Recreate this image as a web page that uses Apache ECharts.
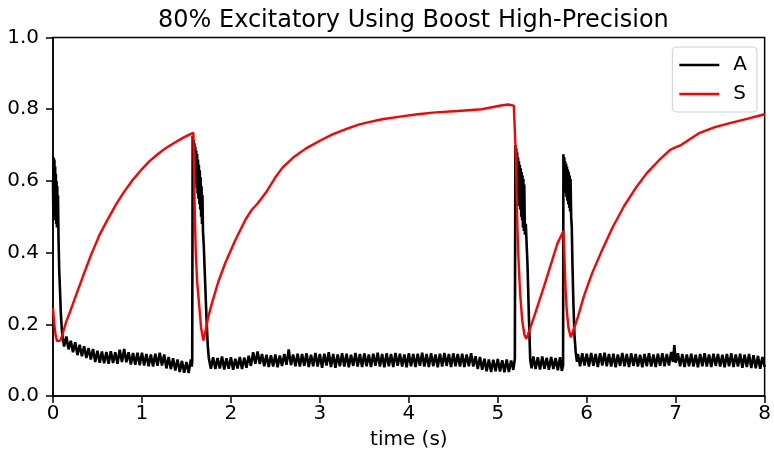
<!DOCTYPE html>
<html>
<head>
<meta charset="utf-8">
<script src="https://cdn.jsdelivr.net/npm/echarts@6/dist/echarts.min.js"></script>
<style>
  html, body { margin: 0; padding: 0; background: #fff; }
  #chart { width: 774px; height: 455px; }
</style>
</head>
<body>
<div id="chart"></div>
<script>
  const titleText = '80% Excitatory Using Boost High-Precision';
  const seriesNames = ['A', 'S'];
  const xTicks = [0, 1, 2, 3, 4, 5, 6, 7, 8];
  const yTicks = [0, 0.2, 0.4, 0.6, 0.8, 1.0];

  // A: activity [time, value]
  const aBurst1 = [
    [0.000, 0.600], [0.004, 0.500], [0.008, 0.665], [0.012, 0.490], [0.016, 0.660],
    [0.020, 0.500], [0.024, 0.640], [0.028, 0.490], [0.032, 0.620], [0.036, 0.480],
    [0.040, 0.600], [0.044, 0.470], [0.048, 0.585], [0.052, 0.470], [0.056, 0.560],
    [0.062, 0.440], [0.070, 0.350], [0.078, 0.300], [0.088, 0.230], [0.097, 0.195],
    [0.105, 0.170]
  ];
  const aBase1 = [
    [0.125, 0.138], [0.150, 0.166], [0.175, 0.130], [0.200, 0.154], [0.225, 0.122],
    [0.250, 0.150], [0.275, 0.114], [0.300, 0.143], [0.325, 0.111], [0.350, 0.139],
    [0.375, 0.106], [0.400, 0.134], [0.425, 0.102], [0.450, 0.131], [0.475, 0.095],
    [0.500, 0.126], [0.525, 0.093], [0.550, 0.124], [0.575, 0.091], [0.600, 0.123],
    [0.625, 0.090], [0.650, 0.125], [0.675, 0.092], [0.700, 0.122], [0.725, 0.090],
    [0.750, 0.129], [0.775, 0.095], [0.800, 0.131], [0.825, 0.094], [0.850, 0.122],
    [0.875, 0.088], [0.900, 0.120], [0.925, 0.087], [0.950, 0.121], [0.975, 0.086],
    [1.000, 0.121], [1.025, 0.085], [1.050, 0.117], [1.075, 0.083], [1.100, 0.116],
    [1.125, 0.082], [1.150, 0.118], [1.175, 0.084], [1.200, 0.121], [1.225, 0.085],
    [1.250, 0.116], [1.275, 0.077], [1.300, 0.109], [1.325, 0.075], [1.350, 0.105],
    [1.375, 0.071], [1.400, 0.102], [1.425, 0.067], [1.450, 0.098], [1.475, 0.065],
    [1.500, 0.095], [1.525, 0.064], [1.550, 0.102], [1.560, 0.082], [1.565, 0.098]
  ];
  const aBurst2 = [
    [1.570, 0.725], [1.575, 0.630], [1.580, 0.715], [1.585, 0.620], [1.590, 0.705],
    [1.595, 0.610], [1.600, 0.695], [1.605, 0.595], [1.610, 0.685], [1.615, 0.580],
    [1.620, 0.675], [1.625, 0.565], [1.630, 0.660], [1.635, 0.550], [1.640, 0.645],
    [1.645, 0.535], [1.650, 0.630], [1.655, 0.520], [1.660, 0.610], [1.665, 0.500],
    [1.670, 0.585], [1.675, 0.480], [1.680, 0.560], [1.686, 0.460], [1.695, 0.420],
    [1.710, 0.320], [1.725, 0.220], [1.740, 0.140], [1.752, 0.105], [1.760, 0.095]
  ];
  const aBase2 = [
    [1.775, 0.076], [1.800, 0.108], [1.825, 0.075], [1.850, 0.106], [1.875, 0.077],
    [1.900, 0.110], [1.925, 0.074], [1.950, 0.105], [1.975, 0.076], [2.000, 0.108],
    [2.025, 0.073], [2.050, 0.104], [2.075, 0.077], [2.100, 0.109], [2.125, 0.075],
    [2.150, 0.107], [2.175, 0.079], [2.200, 0.112], [2.225, 0.084], [2.250, 0.122],
    [2.275, 0.090], [2.300, 0.124], [2.325, 0.089], [2.350, 0.117], [2.375, 0.083],
    [2.400, 0.115], [2.425, 0.081], [2.450, 0.114], [2.475, 0.082], [2.500, 0.116],
    [2.525, 0.080], [2.550, 0.113], [2.575, 0.084], [2.600, 0.117], [2.625, 0.087],
    [2.650, 0.130], [2.675, 0.086], [2.700, 0.116], [2.725, 0.083], [2.750, 0.118],
    [2.775, 0.082], [2.800, 0.117], [2.825, 0.084], [2.850, 0.119], [2.875, 0.081],
    [2.900, 0.115], [2.925, 0.083], [2.950, 0.120], [2.975, 0.082], [3.000, 0.117],
    [3.025, 0.079], [3.050, 0.118], [3.075, 0.085], [3.100, 0.122], [3.125, 0.081],
    [3.150, 0.117], [3.175, 0.079], [3.200, 0.116], [3.225, 0.083], [3.250, 0.119],
    [3.275, 0.082], [3.300, 0.118], [3.325, 0.080], [3.350, 0.115], [3.375, 0.084],
    [3.400, 0.120], [3.425, 0.082], [3.450, 0.117], [3.475, 0.081], [3.500, 0.119],
    [3.525, 0.083], [3.550, 0.116], [3.575, 0.081], [3.600, 0.118], [3.625, 0.084],
    [3.650, 0.121], [3.675, 0.082], [3.700, 0.117], [3.725, 0.080], [3.750, 0.119],
    [3.775, 0.083], [3.800, 0.117], [3.825, 0.081], [3.850, 0.120], [3.875, 0.084],
    [3.900, 0.118], [3.925, 0.082], [3.950, 0.116], [3.975, 0.080], [4.000, 0.119],
    [4.025, 0.083], [4.050, 0.117], [4.075, 0.081], [4.100, 0.118], [4.125, 0.084],
    [4.150, 0.121], [4.175, 0.082], [4.200, 0.117], [4.225, 0.081], [4.250, 0.119],
    [4.275, 0.083], [4.300, 0.116], [4.325, 0.080], [4.350, 0.118], [4.375, 0.082],
    [4.400, 0.120], [4.425, 0.084], [4.450, 0.117], [4.475, 0.081], [4.500, 0.119],
    [4.525, 0.083], [4.550, 0.117], [4.575, 0.082], [4.600, 0.118], [4.625, 0.081],
    [4.650, 0.116], [4.675, 0.083], [4.700, 0.119], [4.725, 0.082], [4.750, 0.111],
    [4.775, 0.075], [4.800, 0.109], [4.825, 0.073], [4.850, 0.104], [4.875, 0.069],
    [4.900, 0.102], [4.925, 0.067], [4.950, 0.101], [4.975, 0.069], [5.000, 0.103],
    [5.025, 0.068], [5.050, 0.100], [5.075, 0.066], [5.100, 0.102], [5.125, 0.067],
    [5.150, 0.099], [5.175, 0.073], [5.192, 0.104]
  ];
  const aBurst3 = [
    [5.198, 0.700], [5.203, 0.600], [5.208, 0.690], [5.213, 0.590], [5.218, 0.680],
    [5.223, 0.570], [5.228, 0.665], [5.233, 0.550], [5.238, 0.655], [5.243, 0.530],
    [5.248, 0.645], [5.253, 0.520], [5.258, 0.635], [5.263, 0.500], [5.268, 0.625],
    [5.273, 0.490], [5.278, 0.615], [5.283, 0.470], [5.288, 0.605], [5.293, 0.460],
    [5.298, 0.590], [5.305, 0.450], [5.315, 0.480], [5.325, 0.420], [5.335, 0.360],
    [5.350, 0.220], [5.365, 0.100]
  ];
  const aBase3 = [
    [5.380, 0.077], [5.400, 0.110], [5.425, 0.075], [5.450, 0.108], [5.475, 0.074],
    [5.500, 0.110], [5.525, 0.076], [5.550, 0.107], [5.575, 0.073], [5.600, 0.109],
    [5.625, 0.075], [5.650, 0.106], [5.675, 0.072], [5.700, 0.108], [5.720, 0.070],
    [5.734, 0.085]
  ];
  const aBurst4 = [
    [5.738, 0.674], [5.743, 0.580], [5.748, 0.665], [5.753, 0.575], [5.758, 0.655],
    [5.763, 0.565], [5.768, 0.648], [5.773, 0.555], [5.778, 0.640], [5.783, 0.545],
    [5.788, 0.632], [5.793, 0.535], [5.798, 0.625], [5.803, 0.525], [5.808, 0.615],
    [5.813, 0.515], [5.818, 0.605], [5.825, 0.500], [5.832, 0.470], [5.840, 0.363],
    [5.850, 0.260], [5.862, 0.170], [5.876, 0.123], [5.890, 0.095]
  ];
  const aBase4 = [
    [5.900, 0.117], [5.925, 0.083], [5.950, 0.119], [5.975, 0.085], [6.000, 0.118],
    [6.025, 0.082], [6.050, 0.120], [6.075, 0.084], [6.100, 0.117], [6.125, 0.081],
    [6.150, 0.119], [6.175, 0.085], [6.200, 0.121], [6.225, 0.083], [6.250, 0.117],
    [6.275, 0.082], [6.300, 0.118], [6.325, 0.080], [6.350, 0.116], [6.375, 0.084],
    [6.400, 0.120], [6.425, 0.083], [6.450, 0.117], [6.475, 0.081], [6.500, 0.119],
    [6.525, 0.084], [6.550, 0.117], [6.575, 0.082], [6.600, 0.115], [6.625, 0.080],
    [6.650, 0.117], [6.675, 0.083], [6.700, 0.119], [6.725, 0.082], [6.750, 0.116],
    [6.775, 0.081], [6.800, 0.118], [6.825, 0.084], [6.850, 0.119], [6.875, 0.083],
    [6.900, 0.117], [6.925, 0.085], [6.950, 0.123], [6.970, 0.095], [6.985, 0.142],
    [7.000, 0.093], [7.025, 0.119], [7.050, 0.083], [7.075, 0.117], [7.100, 0.081],
    [7.125, 0.116], [7.150, 0.083], [7.175, 0.118], [7.200, 0.082], [7.225, 0.115],
    [7.250, 0.080], [7.275, 0.117], [7.300, 0.083], [7.325, 0.119], [7.350, 0.082],
    [7.375, 0.116], [7.400, 0.081], [7.425, 0.118], [7.450, 0.084], [7.475, 0.117],
    [7.500, 0.082], [7.525, 0.115], [7.550, 0.080], [7.575, 0.117], [7.600, 0.083],
    [7.625, 0.119], [7.650, 0.081], [7.675, 0.116], [7.700, 0.082], [7.725, 0.118],
    [7.750, 0.079], [7.775, 0.115], [7.800, 0.081], [7.825, 0.117], [7.850, 0.078],
    [7.875, 0.114], [7.900, 0.077], [7.925, 0.112], [7.950, 0.076], [7.975, 0.109],
    [8.000, 0.081]
  ];

  // S: smooth red trace [time, value]
  const sCurve = [
    [0.000, 0.245], [0.015, 0.200], [0.030, 0.168], [0.045, 0.153], [0.065, 0.148],
    [0.085, 0.155], [0.110, 0.175], [0.150, 0.208], [0.190, 0.234], [0.250, 0.275],
    [0.340, 0.336], [0.430, 0.395], [0.526, 0.451], [0.620, 0.495], [0.710, 0.535],
    [0.800, 0.570], [0.900, 0.604], [1.000, 0.633], [1.085, 0.655], [1.180, 0.675],
    [1.270, 0.692], [1.370, 0.707], [1.460, 0.720], [1.550, 0.731], [1.578, 0.734],
    [1.586, 0.620], [1.595, 0.500], [1.605, 0.400], [1.620, 0.320], [1.644, 0.252],
    [1.665, 0.190], [1.690, 0.155], [1.710, 0.175], [1.740, 0.215], [1.790, 0.262],
    [1.860, 0.320], [1.940, 0.373], [2.050, 0.435], [2.166, 0.493], [2.230, 0.518],
    [2.300, 0.537], [2.400, 0.570], [2.500, 0.610], [2.580, 0.637], [2.700, 0.665],
    [2.840, 0.690], [3.000, 0.712], [3.135, 0.729], [3.300, 0.745], [3.435, 0.757],
    [3.550, 0.764], [3.700, 0.772], [3.920, 0.780], [4.100, 0.786], [4.300, 0.791],
    [4.550, 0.795], [4.820, 0.800], [4.950, 0.806], [5.050, 0.811], [5.120, 0.813],
    [5.180, 0.810], [5.195, 0.806], [5.205, 0.660], [5.215, 0.520], [5.230, 0.400],
    [5.250, 0.290], [5.275, 0.210], [5.300, 0.170], [5.320, 0.160], [5.340, 0.172],
    [5.400, 0.215], [5.520, 0.306], [5.620, 0.385], [5.670, 0.425], [5.738, 0.460],
    [5.748, 0.400], [5.760, 0.310], [5.775, 0.240], [5.795, 0.190], [5.820, 0.164],
    [5.845, 0.180], [5.900, 0.220], [5.970, 0.280], [6.060, 0.342], [6.160, 0.400],
    [6.290, 0.470], [6.420, 0.530], [6.550, 0.580], [6.680, 0.623], [6.810, 0.657],
    [6.940, 0.687], [6.990, 0.693], [7.010, 0.690], [7.060, 0.700], [7.150, 0.715],
    [7.270, 0.734], [7.440, 0.750], [7.610, 0.761], [7.800, 0.773], [8.000, 0.786]
  ];

  const seriesA = [].concat(aBurst1, aBase1, aBurst2, aBase2, aBurst3, aBase3, aBurst4, aBase4);

  const font = 'DejaVu Sans';
  const axisText = { color: '#000', fontSize: 20, fontFamily: font };

  const chart = echarts.init(document.getElementById('chart'), null, { renderer: 'canvas' });

  const option = {
    animation: false,
    backgroundColor: '#fff',
    title: {
      text: titleText,
      left: 153,
      top: 4,
      textStyle: { color: '#000', fontSize: 24, fontWeight: 'normal', fontFamily: font },
    },
    legend: {
      data: seriesNames,
      orient: 'vertical',
      right: 17,
      top: 47,
      icon: 'rect',
      itemWidth: 40,
      itemHeight: 2.5,
      itemGap: 9,
      padding: [8, 10, 8, 7],
      backgroundColor: 'rgba(255,255,255,0.8)',
      borderColor: '#d0d0d0',
      borderWidth: 1,
      borderRadius: 4,
      textStyle: { color: '#000', fontSize: 20, fontFamily: font, padding: [0, 0, 0, 9] },
    },
    grid: {
      left: 53,
      right: 6,
      top: 37.5,
      bottom: 57.5,
      show: true,
      borderColor: '#000',
      borderWidth: 1.5,
      backgroundColor: 'transparent',
    },
    xAxis: {
      type: 'value',
      min: xTicks[0],
      max: xTicks[xTicks.length - 1],
      interval: 1,
      name: 'time (s)',
      nameLocation: 'middle',
      nameGap: 34,
      nameTextStyle: axisText,
      axisLine: { show: true, lineStyle: { color: '#000', width: 1.5 } },
      axisTick: { show: true, length: 7, lineStyle: { color: '#000', width: 1.5 } },
      axisLabel: Object.assign({ margin: 8 }, axisText),
      splitLine: { show: false },
    },
    yAxis: {
      type: 'value',
      min: yTicks[0],
      max: yTicks[yTicks.length - 1],
      interval: 0.2,
      axisLine: { show: true, lineStyle: { color: '#000', width: 1.5 } },
      axisTick: { show: true, length: 7, lineStyle: { color: '#000', width: 1.5 } },
      axisLabel: Object.assign({ margin: 14, formatter: (v) => v.toFixed(1) }, axisText),
      splitLine: { show: false },
    },
    series: [
      {
        name: seriesNames[0],
        type: 'line',
        data: seriesA,
        symbol: 'none',
        lineStyle: { color: '#000', width: 2.6 },
        itemStyle: { color: '#000' },
        z: 2,
      },
      {
        name: seriesNames[1],
        type: 'line',
        data: sCurve,
        symbol: 'none',
        lineStyle: { color: '#ff0000', width: 2.4 },
        itemStyle: { color: '#ff0000' },
        z: 3,
      },
    ],
  };

  chart.setOption(option);
</script>
</body>
</html>
